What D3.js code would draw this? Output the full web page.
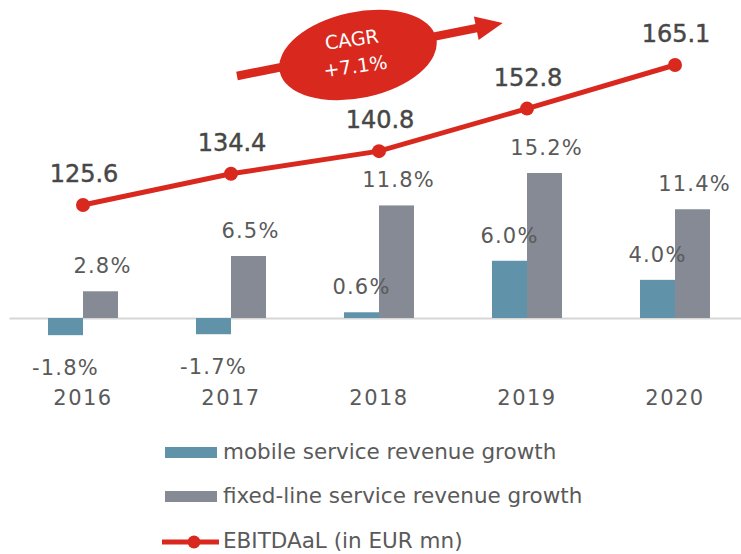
<!DOCTYPE html>
<html>
<head>
<meta charset="utf-8">
<script src="https://cdn.jsdelivr.net/npm/d3@7"></script>
<style>
  body { margin: 0; background: #fff; }
  svg { display: block; font-family: "DejaVu Sans", sans-serif; }
</style>
</head>
<body>
<script>
// values
let years = ["2016", "2017", "2018", "2019", "2020"];
let mobileGrowth = [-1.8, -1.7, 0.6, 6.0, 4.0];
let fixedGrowth = [2.8, 6.5, 11.8, 15.2, 11.4];
let ebitdaal = [125.6, 134.4, 140.8, 152.8, 165.1];
let cagrText = ["CAGR", "+7.1%"];
let legendLabels = ["mobile service revenue growth", "fixed-line service revenue growth", "EBITDAaL (in EUR mn)"];

let W = 741, H = 554;
let colMobile = "#6093aa";
let colFixed = "#858a94";
let colRed = "#d9291f";
let colText = "#5a5a5a";
let barW = 35;

let svg = d3.select("body").append("svg").attr("width", W).attr("height", H);

let x = d3.scaleBand().domain(years).range([9, 749]);
let yBar = d3.scaleLinear().domain([0, 15.2]).range([318, 173]);
let yLine = d3.scaleLinear().domain([125.6, 165.1]).range([205, 65]);
let cx = (d) => x(d) + x.bandwidth() / 2;

// CAGR arrow + bubble
let cagr = svg.append("g");
let ang = -11.3;
cagr.append("g").attr("transform", "translate(237,76) rotate(" + ang + ")")
  .call(g => {
    g.append("line").attr("x1", 0).attr("y1", 0).attr("x2", 248).attr("y2", 0)
      .attr("stroke", colRed).attr("stroke-width", 8.5);
    g.append("path").attr("d", "M244,-12 L271,0 L244,12 Z").attr("fill", colRed);
  });
cagr.append("ellipse").attr("cx", 358).attr("cy", 55).attr("rx", 80).attr("ry", 43)
  .attr("transform", "rotate(-12,358,55)").attr("fill", colRed);
cagr.append("g").attr("transform", "translate(354,56) rotate(-8)")
  .selectAll("text").data(cagrText).enter().append("text")
  .attr("x", 0).attr("y", (d, i) => i == 0 ? -10 : 17)
  .attr("text-anchor", "middle").attr("fill", "#fff").attr("font-size", 19)
  .text(d => d);

// axis with year labels
let axis = svg.append("g").attr("transform", "translate(0,318)")
  .call(d3.axisBottom(x).tickSize(0).tickSizeOuter(0).tickPadding(72));
axis.select(".domain").attr("stroke", "#d6d6d6").attr("stroke-width", 2);
axis.selectAll("text").attr("font-size", 21).attr("font-family", "DejaVu Sans")
  .attr("fill", colText).attr("letter-spacing", 1.5);

// bars
let groups = svg.selectAll(".grp").data(years).enter().append("g").attr("class", "grp");
groups.append("rect")
  .attr("x", d => cx(d) - barW)
  .attr("width", barW)
  .attr("y", (d, i) => Math.min(yBar(mobileGrowth[i]), yBar(0)))
  .attr("height", (d, i) => Math.abs(yBar(mobileGrowth[i]) - yBar(0)))
  .attr("fill", colMobile);
groups.append("rect")
  .attr("x", d => cx(d))
  .attr("width", barW)
  .attr("y", (d, i) => yBar(fixedGrowth[i]))
  .attr("height", (d, i) => yBar(0) - yBar(fixedGrowth[i]))
  .attr("fill", colFixed);

let pct = (v) => v.toFixed(1) + "%";
groups.append("text")
  .attr("x", d => cx(d) - barW / 2)
  .attr("y", (d, i) => mobileGrowth[i] < 0 ? yBar(mobileGrowth[i]) + 40 : yBar(mobileGrowth[i]) - 18)
  .attr("text-anchor", "middle").attr("font-size", 21).attr("letter-spacing", 1.2)
  .attr("fill", colText)
  .text((d, i) => pct(mobileGrowth[i]));
groups.append("text")
  .attr("x", d => cx(d) + barW / 2 + 2)
  .attr("y", (d, i) => yBar(fixedGrowth[i]) - 18)
  .attr("text-anchor", "middle").attr("font-size", 21).attr("letter-spacing", 1.2)
  .attr("fill", colText)
  .text((d, i) => pct(fixedGrowth[i]));

// EBITDAaL line
let line = d3.line().x((d, i) => cx(years[i])).y(d => yLine(d));
svg.append("path").datum(ebitdaal).attr("d", line)
  .attr("fill", "none").attr("stroke", colRed).attr("stroke-width", 5);
svg.selectAll(".pt").data(ebitdaal).enter().append("circle").attr("class", "pt")
  .attr("cx", (d, i) => cx(years[i])).attr("cy", d => yLine(d)).attr("r", 7)
  .attr("fill", colRed);
svg.selectAll(".vl").data(ebitdaal).enter().append("text").attr("class", "vl")
  .attr("x", (d, i) => cx(years[i]) + 1).attr("y", d => yLine(d) - 23)
  .attr("text-anchor", "middle").attr("font-size", 24)
  .attr("fill", "#474747").attr("stroke", "#474747").attr("stroke-width", 0.45)
  .text(d => d.toFixed(1));

// legend
let legend = svg.append("g");
legend.append("rect").attr("x", 165).attr("y", 447).attr("width", 52).attr("height", 11).attr("fill", colMobile);
legend.append("rect").attr("x", 165).attr("y", 491).attr("width", 52).attr("height", 11).attr("fill", colFixed);
legend.append("line").attr("x1", 162).attr("x2", 219).attr("y1", 542).attr("y2", 542)
  .attr("stroke", colRed).attr("stroke-width", 5);
legend.append("circle").attr("cx", 194).attr("cy", 542).attr("r", 6.5).attr("fill", colRed);
legend.selectAll("text").data(legendLabels).enter().append("text")
  .attr("x", 223).attr("y", (d, i) => [459, 503, 548][i])
  .attr("font-size", 21.5).attr("fill", colText)
  .text(d => d);
</script>
</body>
</html>
